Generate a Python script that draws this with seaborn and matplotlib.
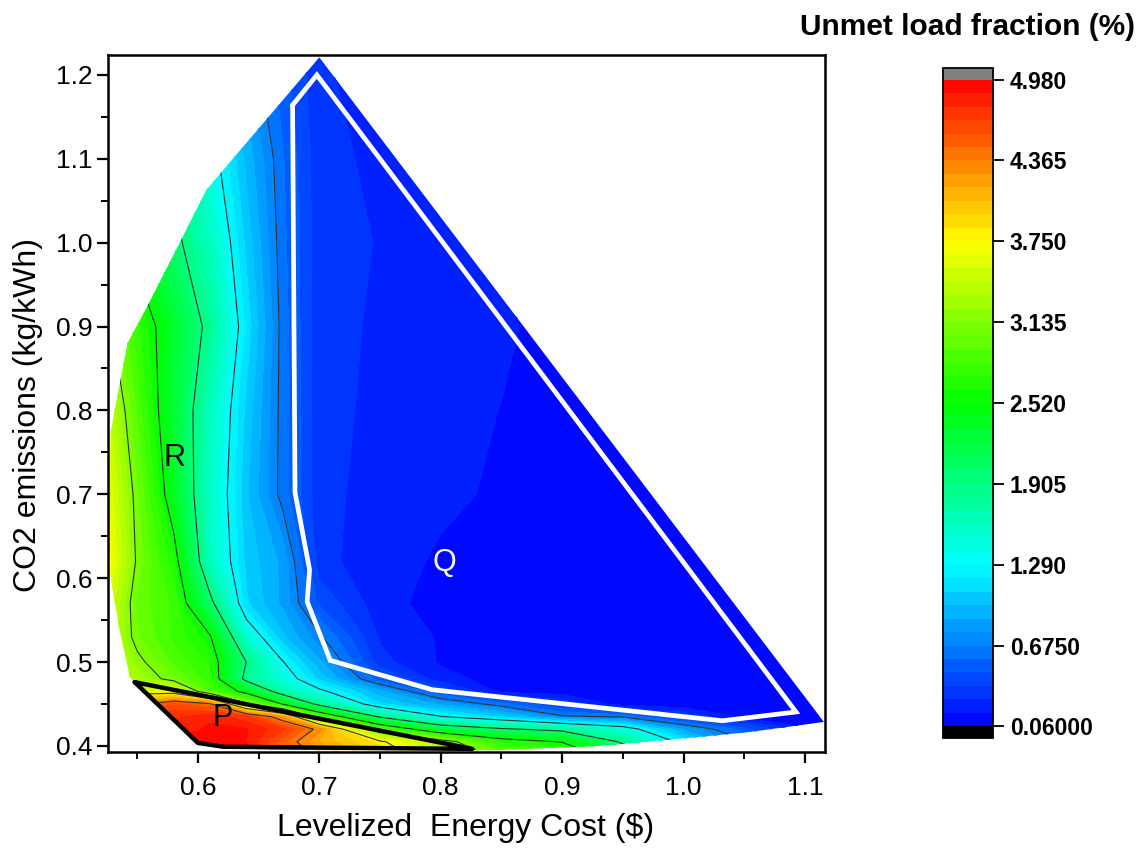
import numpy as np
import matplotlib
matplotlib.use("Agg")
import matplotlib.pyplot as plt
import seaborn as sns
from matplotlib.colors import LinearSegmentedColormap
from matplotlib.patches import Polygon
from matplotlib.ticker import MultipleLocator, FixedLocator

# ---------------- data ----------------
cost_grid = [0.52, 0.55, 0.58, 0.61, 0.64, 0.67, 0.70, 0.75, 0.80, 0.85, 0.90, 0.95, 1.00, 1.05, 1.12]
co2_grid = [0.39, 0.405, 0.42, 0.435, 0.45, 0.465, 0.48, 0.50, 0.53, 0.57, 0.62, 0.70, 0.80, 0.90, 1.00, 1.10, 1.23]

unmet_y039 = [4.9, 4.95, 4.95, 4.95, 4.92, 4.6, 4.3, 3.95, 3.5, 3.0, 2.9, 2.2, 1.5, 0.9, 0.3]
unmet_y0405 = [4.8, 4.85, 4.9, 4.92, 4.88, 4.5, 4.15, 3.8, 3.3, 2.7, 2.5, 1.85, 1.2, 0.7, 0.25]
unmet_y042 = [4.6, 4.7, 4.8, 4.9, 4.88, 4.7, 4.3, 2.9, 2.2, 1.95, 1.8, 1.45, 0.85, 0.5, 0.1]
unmet_y0435 = [4.4, 4.5, 4.75, 4.85, 4.7, 4.2, 2.9, 1.85, 1.3, 1.05, 0.7, 0.65, 0.35, 0.12, 0.08]
unmet_y045 = [4.2, 4.3, 4.6, 4.4, 3.2, 2.5, 1.8, 1.1, 0.85, 0.6, 0.35, 0.1, 0.08, 0.08, 0.08]
unmet_y0465 = [3.8, 3.6, 3.6, 2.9, 2.4, 1.7, 1.35, 0.9, 0.45, 0.12, 0.1, 0.08, 0.08, 0.08, 0.08]
unmet_y048 = [3.6, 3.3, 3.05, 2.75, 1.8, 1.45, 1.05, 0.5, 0.2, 0.12, 0.1, 0.08, 0.08, 0.08, 0.08]
unmet_y050 = [3.5, 3.2, 2.9, 2.7, 1.9, 1.3, 0.9, 0.3, 0.15, 0.1, 0.08, 0.08, 0.08, 0.08, 0.08]
unmet_y053 = [3.6, 3.05, 2.8, 2.55, 1.5, 1.0, 0.7, 0.25, 0.15, 0.1, 0.08, 0.08, 0.08, 0.08, 0.08]
unmet_y057 = [3.7, 3.0, 2.8, 2.0, 1.1, 0.85, 0.45, 0.2, 0.12, 0.1, 0.08, 0.08, 0.08, 0.08, 0.08]
unmet_y062 = [3.9, 3.1, 2.65, 1.6, 1.05, 0.85, 0.3, 0.2, 0.15, 0.12, 0.1, 0.08, 0.08, 0.08, 0.08]
unmet_y070 = [3.8, 3.05, 2.35, 1.55, 1.0, 0.62, 0.3, 0.22, 0.18, 0.15, 0.12, 0.1, 0.08, 0.08, 0.08]
unmet_y080 = [3.6, 2.9, 2.25, 1.6, 1.05, 0.62, 0.3, 0.24, 0.2, 0.16, 0.12, 0.1, 0.08, 0.08, 0.08]
unmet_y090 = [3.3, 2.75, 2.3, 1.8, 1.15, 0.62, 0.3, 0.25, 0.22, 0.18, 0.12, 0.1, 0.08, 0.08, 0.08]
unmet_y100 = [2.8, 2.4, 2.0, 1.6, 1.05, 0.6, 0.3, 0.26, 0.22, 0.16, 0.1, 0.08, 0.08, 0.08, 0.08]
unmet_y110 = [2.4, 2.1, 1.8, 1.4, 0.95, 0.58, 0.3, 0.24, 0.18, 0.12, 0.1, 0.08, 0.08, 0.08, 0.08]
unmet_y123 = [2.0, 1.7, 1.4, 1.05, 0.75, 0.5, 0.28, 0.18, 0.12, 0.1, 0.08, 0.08, 0.08, 0.08, 0.08]

# outline of the sampled design space
domain_cost = [0.700, 1.1156, 1.054, 1.000, 0.930, 0.847, 0.700, 0.621, 0.600, 0.548, 0.544,
               0.536, 0.528, 0.527, 0.528, 0.533, 0.542, 0.559, 0.585, 0.607]
domain_co2 = [1.221, 0.4286, 0.4165, 0.409, 0.400, 0.395, 0.395, 0.397, 0.404, 0.476, 0.482,
              0.535, 0.601, 0.680, 0.773, 0.812, 0.880, 0.926, 1.000, 1.063]

# region Q (white outline) and region P (black outline)
q_cost = [0.678, 0.698, 1.0926, 1.032, 0.793, 0.709, 0.690, 0.692, 0.680, 0.678]
q_co2 = [1.164, 1.200, 0.4405, 0.430, 0.467, 0.502, 0.572, 0.610, 0.702, 1.164]
p_cost = [0.548, 0.600, 0.621, 0.826, 0.548]
p_co2 = [0.476, 0.4036, 0.399, 0.3965, 0.476]

cbar_ticks = [0.06, 0.675, 1.29, 1.905, 2.52, 3.135, 3.75, 4.365, 4.98]
cbar_labels = ["0.06000", "0.6750", "1.290", "1.905", "2.520", "3.135", "3.750", "4.365", "4.980"]
x_ticks = [0.6, 0.7, 0.8, 0.9, 1.0, 1.1]
y_ticks = [0.4, 0.5, 0.6, 0.7, 0.8, 0.9, 1.0, 1.1, 1.2]

# ---------------- plotting ----------------
sns.set_style("ticks")
plt.rcParams["font.family"] = ["Liberation Sans", "DejaVu Sans"]
plt.rcParams["text.color"] = "black"
plt.rcParams["axes.labelcolor"] = "black"
plt.rcParams["xtick.color"] = "black"
plt.rcParams["ytick.color"] = "black"

Z = np.array([unmet_y039, unmet_y0405, unmet_y042, unmet_y0435, unmet_y045, unmet_y0465,
              unmet_y048, unmet_y050, unmet_y053, unmet_y057, unmet_y062, unmet_y070,
              unmet_y080, unmet_y090, unmet_y100, unmet_y110, unmet_y123])
X, Y = np.meshgrid(cost_grid, co2_grid)

fig = plt.figure(figsize=(11.42, 8.55), dpi=100)
ax = fig.add_axes([0.0946, 0.1205, 0.6278, 0.8152])

cmap = LinearSegmentedColormap.from_list(
    "unmet", [(0, 0, 1), (0, 1, 1), (0, 1, 0), (1, 1, 0), (1, 0, 0)])
cmap.set_over("#808080")
cmap.set_under("#000000")
levels = np.linspace(0.06, 4.98, 49)
line_levels = cbar_ticks[1:-1]

clip = Polygon(np.column_stack([domain_cost, domain_co2]), closed=True,
               transform=ax.transData, facecolor="none", edgecolor="none")
ax.add_patch(clip)

cf = ax.contourf(X, Y, Z, levels=levels, cmap=cmap, extend="both")
cf.set_edgecolor("face")
cf.set_linewidth(0.3)
cf.set_clip_path(clip)
cl = ax.contour(X, Y, Z, levels=line_levels, colors="#333333", linewidths=0.8)
cl.set_clip_path(clip)

ax.plot(q_cost, q_co2, color="white", lw=3.4, solid_joinstyle="miter", zorder=5)
ax.plot(p_cost, p_co2, color="black", lw=3.2, solid_joinstyle="round", zorder=5)

ax.text(0.581, 0.743, "R", fontsize=22, ha="center", va="center", color="black", zorder=6)
ax.text(0.803, 0.618, "Q", fontsize=22, ha="center", va="center", color="white", zorder=6)
ax.text(0.620, 0.433, "P", fontsize=22, ha="center", va="center", color="black", zorder=6)

ax.set_xlim(0.526, 1.1165)
ax.set_ylim(0.3928, 1.2238)
ax.xaxis.set_major_locator(FixedLocator(x_ticks))
ax.yaxis.set_major_locator(FixedLocator(y_ticks))
ax.xaxis.set_minor_locator(MultipleLocator(0.05))
ax.yaxis.set_minor_locator(MultipleLocator(0.05))
ax.set_xticklabels([f"{v:.1f}" for v in x_ticks])
ax.set_yticklabels([f"{v:.1f}" for v in y_ticks])
ax.tick_params(axis="both", which="major", direction="out", length=8, width=1.6,
               labelsize=19, color="black", labelcolor="black")
ax.tick_params(axis="x", which="major", pad=9)
ax.tick_params(axis="y", which="major", pad=3)
ax.tick_params(axis="both", which="minor", direction="out", length=5, width=1.4, color="black")
for s in ax.spines.values():
    s.set_linewidth(1.8)
    s.set_color("black")

ax.set_xlabel("Levelized  Energy Cost ($)", fontsize=23, color="black")
ax.xaxis.set_label_coords(0.498, -0.088)
fig.text(28 / 1142, 1 - 415 / 855, "CO2 emissions (kg/kWh)", rotation=90,
         ha="center", va="center", fontsize=23, color="black")

cax = fig.add_axes([0.826, 0.1368, 0.0435, 0.7837])
cb = fig.colorbar(cf, cax=cax, extend="both", extendrect=True, extendfrac=0.018,
                  ticks=cbar_ticks)
cb.ax.set_yticklabels(cbar_labels)
for t in cb.ax.get_yticklabels():
    t.set_fontweight("bold")
    t.set_fontsize(16.5)
    t.set_color("black")
cb.outline.set_linewidth(1.3)
cb.outline.set_edgecolor("black")
cb.ax.tick_params(direction="out", length=8, width=1.3, pad=4, color="black")
cb.ax.minorticks_off()

fig.text(0.8476, 0.968, "Unmet load fraction (%)", ha="center", va="center",
         fontsize=21.5, fontweight="bold", color="black")

fig.savefig("out.png", dpi=100)
